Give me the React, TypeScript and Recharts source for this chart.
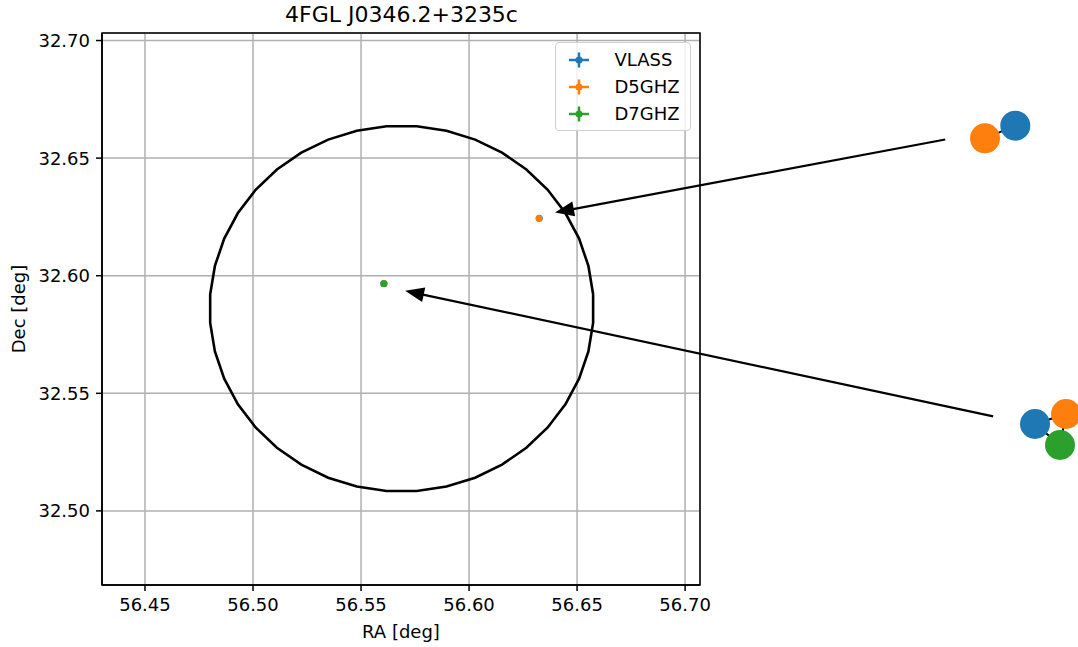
import React from 'react';
import {
  ComposedChart, ScatterChart, Scatter, XAxis, YAxis, CartesianGrid,
  ReferenceLine, ReferenceArea, Legend,
} from 'recharts';

// ---- axes ----
const raDomain: [number, number] = [56.4301, 56.7069];
const decDomain: [number, number] = [32.4685, 32.7032];
const raTicks = [56.45, 56.5, 56.55, 56.6, 56.65, 56.7];
const decTicks = [32.5, 32.55, 32.6, 32.65, 32.7];
const title = '4FGL J0346.2+3235c';
const seriesNames = ['VLASS', 'D5GHZ', 'D7GHZ'];

// ---- radio positions (deg) ----
const vlass = [
  { x: 56.6325, y: 32.6244 },
  { x: 56.5605, y: 32.5967 },
];
const d5ghz = [
  { x: 56.6324, y: 32.6243 },
  { x: 56.5607, y: 32.5967 },
];
const d7ghz = [{ x: 56.5606, y: 32.5966 }];

// ---- Fermi error circle ----
const fermiCenter = { x: 56.5688, y: 32.586 };
const fermiSemiRA = 0.0889;
const fermiSemiDec = 0.0778;
const fermiVertices = 40;

// ---- annotation arrows (from inset to source) ----
const arrowUpperFrom = { x: 56.8204, y: 32.6579 };
const arrowUpperTo = { x: 56.6398, y: 32.6269 };
const arrowLowerFrom = { x: 56.8426, y: 32.5402 };
const arrowLowerTo = { x: 56.5704, y: 32.5936 };

// ---- zoomed insets: relative offsets ----
const insetUpperVlass = [{ dx: 0.765, dy: 0.315 }];
const insetUpperD5 = [{ dx: -0.75, dy: -0.315 }];
const insetLowerVlass = [{ dx: -0.75, dy: 0.4 }];
const insetLowerD5 = [{ dx: 0.8, dy: 0.9 }];
const insetLowerD7 = [{ dx: 0.5, dy: -0.65 }];

const COLORS = { vlass: '#1f77b4', d5: '#ff7f0e', d7: '#2ca02c' };
const FONT = 'DejaVu Sans, sans-serif';

const circlePts = Array.from({ length: fermiVertices + 1 }, (_, i) => {
  const t = ((i + 0.5) / fermiVertices) * 2 * Math.PI;
  return { x: fermiCenter.x + fermiSemiRA * Math.cos(t), y: fermiCenter.y + fermiSemiDec * Math.sin(t) };
});

const dot = (r: number, color: string) => (p: any) =>
  <circle cx={p.cx} cy={p.cy} r={r} fill={color} />;
const noShape = () => <g />;

const ArrowShape = (p: any) => {
  const { x1, y1, x2, y2 } = p;
  const dx = x2 - x1, dy = y2 - y1;
  const len = Math.hypot(dx, dy) || 1;
  const ux = dx / len, uy = dy / len;
  const hl = 19, hw = 7.5;
  const bx = x2 - ux * hl, by = y2 - uy * hl;
  const pts = `${x2},${y2} ${bx - uy * hw},${by + ux * hw} ${bx + uy * hw},${by - ux * hw}`;
  return (
    <g>
      <line x1={x1} y1={y1} x2={bx + ux * 2} y2={by + uy * 2} stroke="#000" strokeWidth={2.2} />
      <polygon points={pts} fill="#000" />
    </g>
  );
};

const LegendBox = (props: any) => {
  const all = (props.payload || []).filter((e: any) => e.type !== 'none');
  const items = seriesNames.map((n) => all.find((e: any) => e.value === n)).filter(Boolean);
  return (
    <div style={{
      width: 134, height: 84, border: '1.5px solid #d0d0d0', borderRadius: 4,
      background: 'rgba(255,255,255,0.8)', paddingTop: 3, fontFamily: FONT, fontSize: 18,
      color: '#000', boxSizing: 'content-box', textAlign: 'left',
    }}>
      {items.map((e: any) => (
        <div key={e.value} style={{ height: 27.2, display: 'flex', alignItems: 'center' }}>
          <svg width={26} height={20} style={{ marginLeft: 9.5, marginRight: 23 }}>
            <line x1={3} y1={10} x2={23} y2={10} stroke={e.color} strokeWidth={2.5} />
            <line x1={13} y1={2.5} x2={13} y2={17.5} stroke={e.color} strokeWidth={2.5} />
            <circle cx={13} cy={10} r={3.5} fill={e.color} />
          </svg>
          <span style={{ lineHeight: '20px' }}>{e.value}</span>
        </div>
      ))}
    </div>
  );
};

const Inset = ({ left, top, series, links }: any) => (
  <div style={{ position: 'absolute', left, top }}>
    <ScatterChart width={100} height={100} margin={{ top: 0, right: 0, bottom: 0, left: 0 }}>
      <XAxis type="number" dataKey="dx" domain={[-2.5, 2.5]} hide allowDataOverflow />
      <YAxis type="number" dataKey="dy" domain={[-2.5, 2.5]} hide allowDataOverflow />
      <Scatter data={links} shape={noShape} line={{ stroke: '#000', strokeWidth: 2 }} lineType="joint" isAnimationActive={false} />
      {series.map((s: any, i: number) => (
        <Scatter key={i} data={s.data} shape={dot(15, s.color)} isAnimationActive={false} />
      ))}
    </ScatterChart>
  </div>
);

export default function App() {
  return (
    <div style={{ position: 'absolute', left: 0, top: 0, width: 1078, height: 647, overflow: 'hidden', background: '#fff', fontFamily: FONT }}>
      <div style={{ position: 'absolute', left: 103, top: 2, width: 597, textAlign: 'center', fontSize: 22, lineHeight: '26px', color: '#000' }}>
        {title}
      </div>
      <ComposedChart width={1078} height={647} margin={{ top: 33, right: 378, bottom: 0, left: 0 }} style={{ fontFamily: FONT }}>
        <CartesianGrid stroke="#b0b0b0" strokeWidth={1.5} />
        <XAxis
          type="number" dataKey="x" domain={raDomain} ticks={raTicks} allowDataOverflow
          tickFormatter={(v: number) => v.toFixed(2)} height={62}
          tick={{ fill: '#000', fontSize: 18 }} tickSize={6} tickMargin={7}
          stroke="#000" axisLine={{ stroke: '#000', strokeWidth: 1.5 }} tickLine={{ stroke: '#000', strokeWidth: 1.5 }}
          label={{ value: 'RA [deg]', position: 'insideBottom', offset: 9, fill: '#000', fontSize: 18 }}
        />
        <YAxis
          type="number" dataKey="y" domain={decDomain} ticks={decTicks} allowDataOverflow
          tickFormatter={(v: number) => v.toFixed(2)} width={102}
          tick={{ fill: '#000', fontSize: 18 }} tickSize={6} tickMargin={6}
          stroke="#000" axisLine={{ stroke: '#000', strokeWidth: 1.5 }} tickLine={{ stroke: '#000', strokeWidth: 1.5 }}
          label={(p: any) => {
            const vb = p.viewBox || { x: 0, y: 33, width: 102, height: 552 };
            const cx = 18, cy = vb.y + vb.height / 2;
            return (
              <text x={cx} y={cy} transform={`rotate(-90, ${cx}, ${cy})`} textAnchor="middle" dominantBaseline="central" fontSize={18} fill="#000">
                Dec [deg]
              </text>
            );
          }}
        />
        <Scatter name="circle" data={circlePts} shape={noShape} line={{ stroke: '#000', strokeWidth: 2.6 }} lineType="joint" legendType="none" isAnimationActive={false} />
        <Scatter name={seriesNames[0]} data={vlass} fill={COLORS.vlass} shape={dot(3.5, COLORS.vlass)} isAnimationActive={false} />
        <Scatter name={seriesNames[1]} data={d5ghz} fill={COLORS.d5} shape={dot(3.5, COLORS.d5)} isAnimationActive={false} />
        <Scatter name={seriesNames[2]} data={d7ghz} fill={COLORS.d7} shape={dot(3.5, COLORS.d7)} isAnimationActive={false} />
        <ReferenceLine segment={[arrowUpperFrom, arrowUpperTo]} ifOverflow="visible" shape={ArrowShape} />
        <ReferenceLine segment={[arrowLowerFrom, arrowLowerTo]} ifOverflow="visible" shape={ArrowShape} />
        <ReferenceArea x1={raDomain[0]} x2={raDomain[1]} y1={decDomain[0]} y2={decDomain[1]} fill="none" fillOpacity={0} stroke="#000" strokeWidth={1.5} />
        <Legend
          content={LegendBox} layout="horizontal" verticalAlign="middle" align="center"
          wrapperStyle={{ position: 'absolute', left: 555, top: 42, width: 'auto', height: 'auto', margin: 0 }}
        />
      </ComposedChart>
      <Inset
        left={950} top={82}
        links={[...insetUpperD5, ...insetUpperVlass]}
        series={[{ data: insetUpperVlass, color: COLORS.vlass }, { data: insetUpperD5, color: COLORS.d5 }]}
      />
      <Inset
        left={1000} top={382}
        links={[...insetLowerVlass, ...insetLowerD5, ...insetLowerD7, ...insetLowerVlass]}
        series={[
          { data: insetLowerVlass, color: COLORS.vlass },
          { data: insetLowerD5, color: COLORS.d5 },
          { data: insetLowerD7, color: COLORS.d7 },
        ]}
      />
    </div>
  );
}
